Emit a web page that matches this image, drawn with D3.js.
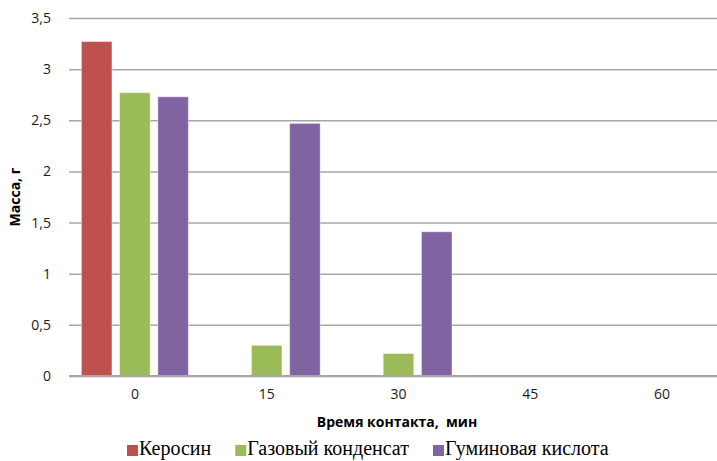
<!DOCTYPE html>
<html>
<head>
<meta charset="utf-8">
<script src="https://cdn.jsdelivr.net/npm/d3@7"></script>
<style>
  body { margin: 0; background: #fff; }
  svg { display: block; }
  .tick text { font-family: "Open Sans", "DejaVu Sans", sans-serif; font-size: 14px; fill: #1a1a1a; }
  .title { font-family: "Open Sans", "DejaVu Sans", sans-serif; font-size: 14px; font-weight: bold; fill: #000; white-space: pre; }
  .legend text { font-family: "Liberation Serif", serif; font-size: 20px; fill: #000; }
</style>
</head>
<body>
<div id="chart"></div>
<script>
// data
const times = ['0', '15', '30', '45', '60'];
const seriesNames = ['Керосин', 'Газовый конденсат', 'Гуминовая кислота'];
const kerosene = [3.27, 0, 0, 0, 0];
const condensate = [2.77, 0.30, 0.22, 0, 0];
const humic = [2.73, 2.47, 1.41, 0, 0];
const yTicks = [0, 0.5, 1, 1.5, 2, 2.5, 3, 3.5];
const colors = ['#C0504D', '#9BBB59', '#8064A2'];

const width = 717, height = 461;
const margin = {top: 18, right: -11, bottom: 85, left: 69};

const svg = d3.select('#chart')
  .append('svg')
  .attr('width', width)
  .attr('height', height);

const x0 = d3.scaleBand()
  .domain(times)
  .range([margin.left, width - margin.right])
  .paddingInner(0.188)
  .paddingOuter(0.094);

const x1 = d3.scaleBand()
  .domain(seriesNames)
  .range([0, x0.bandwidth()])
  .paddingInner(0.2);

const y = d3.scaleLinear()
  .domain([0, 3.5])
  .range([height - margin.bottom, margin.top]);

const fmt = d => String(d).replace('.', ',');

// gridlines + y labels
const yAxis = svg.append('g')
  .attr('transform', `translate(${margin.left},0)`)
  .call(d3.axisLeft(y).tickValues(yTicks).tickFormat(fmt).tickSize(-(width - margin.left)).tickPadding(18));
yAxis.select('.domain').remove();
yAxis.selectAll('.tick line').attr('stroke', '#A6A6A6').attr('stroke-width', 1.5);

// bars
const rows = times.map((t, i) => ({t, vals: [kerosene[i], condensate[i], humic[i]]}));
svg.append('g')
  .selectAll('g')
  .data(rows)
  .join('g')
  .attr('transform', d => `translate(${x0(d.t)},0)`)
  .selectAll('rect')
  .data(d => d.vals.map((v, j) => ({name: seriesNames[j], v, c: colors[j]})))
  .join('rect')
  .attr('x', d => x1(d.name))
  .attr('width', x1.bandwidth())
  .attr('y', d => y(d.v))
  .attr('height', d => y(0) - y(d.v))
  .attr('fill', d => d.c)
  .attr('stroke', d => d.v > 0 ? 'rgba(255,255,255,0.45)' : 'none')
  .attr('stroke-width', 1);

// x axis
const xAxis = svg.append('g')
  .attr('transform', `translate(0,${y(0)})`)
  .call(d3.axisBottom(x0).tickSize(0).tickPadding(13));
xAxis.select('.domain').attr('stroke', '#A6A6A6').attr('stroke-width', 2)
  .attr('d', `M${margin.left},0H${width}`);

// axis titles
svg.append('text')
  .attr('class', 'title')
  .attr('x', 397)
  .attr('y', 427)
  .attr('text-anchor', 'middle')
  .text('Время контакта,  мин');

svg.append('text')
  .attr('class', 'title')
  .attr('transform', `translate(20,${(y(0) + y(3.5)) / 2}) rotate(-90)`)
  .attr('text-anchor', 'middle')
  .text('Масса, г');

// legend, laid out left to right
const legend = svg.append('g').attr('class', 'legend');
let lx = 127;
seriesNames.forEach((name, i) => {
  const g = legend.append('g').attr('transform', `translate(${lx},0)`);
  g.append('rect')
    .attr('x', 0).attr('y', 445)
    .attr('width', 11).attr('height', 11)
    .attr('fill', colors[i]);
  const t = g.append('text')
    .attr('x', 12).attr('y', 455)
    .text(name);
  lx += 12 + t.node().getComputedTextLength() + 24;
});
</script>
</body>
</html>
